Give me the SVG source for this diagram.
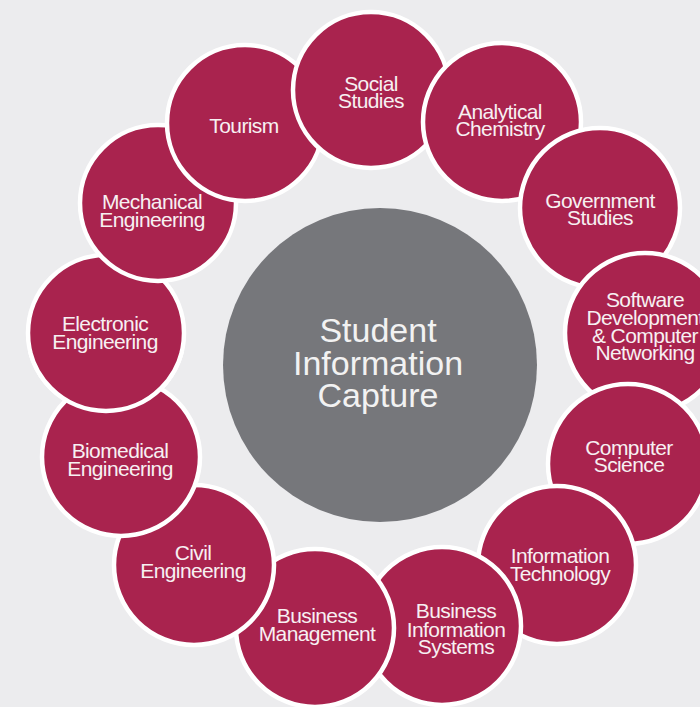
<svg xmlns="http://www.w3.org/2000/svg" xmlns:xlink="http://www.w3.org/1999/xlink" width="700" height="707" viewBox="0 0 700 707">
<style>
.n{fill:#A9234E;stroke:#FFFFFF;stroke-width:4.5}
.t{font-family:"Liberation Sans",Arial,sans-serif;font-size:21px;letter-spacing:-0.6px;fill:#F7F0F2;text-anchor:middle}
.c{font-family:"Liberation Sans",Arial,sans-serif;font-size:34px;fill:#F2F2F2;text-anchor:middle}
</style>
<defs>
<clipPath id="lowElec"><rect x="0" y="352" width="260" height="90"/></clipPath>
</defs>
<rect width="700" height="707" fill="#ECECEE"/>
<g id="hub">
<circle cx="380" cy="365" r="157" fill="#76777B"/>
<text class="c" x="378" y="342">Student</text>
<text class="c" x="378" y="375">Information</text>
<text class="c" x="378" y="407">Capture</text>
</g>
<g id="connectors"/>
<g id="n-electronic"><circle class="n" cx="106" cy="333" r="78"/><text class="t" x="105" y="331">Electronic</text><text class="t" x="105" y="349">Engineering</text></g>
<g id="n-mechanical"><circle class="n" cx="158" cy="203" r="78"/><text class="t" x="152" y="209">Mechanical</text><text class="t" x="152" y="227">Engineering</text></g>
<g id="n-tourism"><circle class="n" cx="245" cy="123" r="78"/><text class="t" x="244" y="133">Tourism</text></g>
<g id="n-social"><circle class="n" cx="371" cy="90" r="78"/><text class="t" x="371" y="91">Social</text><text class="t" x="371" y="108">Studies</text></g>
<g id="n-analytical"><circle class="n" cx="502" cy="122" r="79"/><text class="t" x="500" y="119">Analytical</text><text class="t" x="500" y="136">Chemistry</text></g>
<g id="n-government"><circle class="n" cx="600" cy="208" r="80"/><text class="t" x="600" y="208">Government</text><text class="t" x="600" y="225">Studies</text></g>
<g id="n-software"><circle class="n" cx="645" cy="333" r="80"/><text class="t" x="645" y="307">Software</text><text class="t" x="645" y="325">Development</text><text class="t" x="645" y="343">&amp; Computer</text><text class="t" x="645" y="360">Networking</text></g>
<g id="n-compsci"><circle class="n" cx="628" cy="464" r="80"/><text class="t" x="629" y="455">Computer</text><text class="t" x="629" y="472">Science</text></g>
<g id="n-infotech"><circle class="n" cx="557" cy="565" r="79"/><text class="t" x="560" y="563">Information</text><text class="t" x="560" y="581">Technology</text></g>
<g id="n-bis"><circle class="n" cx="442" cy="626" r="79"/><text class="t" x="456" y="618">Business</text><text class="t" x="456" y="637">Information</text><text class="t" x="456" y="654">Systems</text></g>
<g id="n-busmgmt"><circle class="n" cx="315" cy="628" r="79"/><text class="t" x="317" y="623">Business</text><text class="t" x="317" y="641">Management</text></g>
<g id="n-civil"><circle class="n" cx="194" cy="565" r="80"/><text class="t" x="193" y="560">Civil</text><text class="t" x="193" y="578">Engineering</text></g>
<g id="n-biomedical"><circle class="n" cx="121" cy="457" r="79"/><text class="t" x="120" y="458">Biomedical</text><text class="t" x="120" y="476">Engineering</text></g>
<use xlink:href="#n-electronic" href="#n-electronic" clip-path="url(#lowElec)"/>
</svg>
